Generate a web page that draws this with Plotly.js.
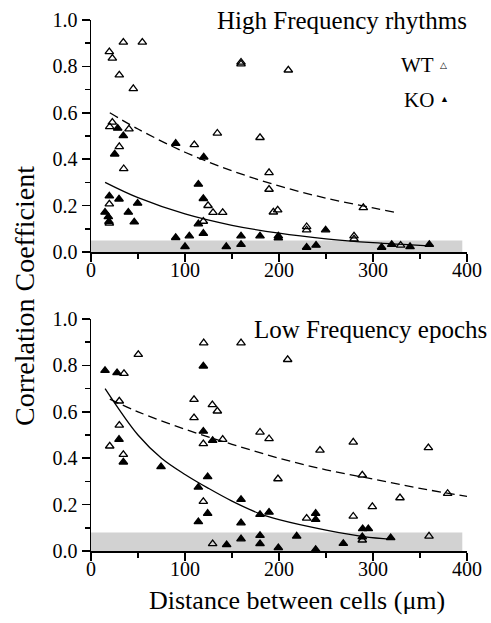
<!DOCTYPE html>
<html>
<head>
<meta charset="utf-8">
<script src="https://cdn.plot.ly/plotly-3.0.1.min.js"></script>
<style>html,body{margin:0;padding:0;background:#fff;}#chart{width:491px;height:623px;}</style>
</head>
<body>
<div id="chart"></div>
<script>
// ---------- DATA ----------
// High Frequency rhythms, WT (open triangles)
const highWTx = [34.4,54.6,19.5,22.7,30.1,45,159.6,159.6,209.9,22.7,19.9,40.4,134.4,179.8,109.9,30.1,34.8,189.4,189.4,19.5,124.5,129.8,140.1,194,198.6,19.5,119.5,289.7,229.4,229.4,279.8,279.8,329.4];
const highWTy = [0.904,0.904,0.863,0.835,0.763,0.704,0.818,0.81,0.784,0.559,0.54,0.53,0.512,0.493,0.462,0.454,0.359,0.342,0.270,0.207,0.200,0.170,0.170,0.172,0.181,0.124,0.132,0.191,0.109,0.095,0.069,0.056,0.029];
// High Frequency rhythms, KO (filled triangles)
const highKOx = [28.4,34.4,90.1,25.2,119.9,114.2,19.5,29.8,49.6,119.5,14.9,39.7,18.4,19.1,46,114.2,119.5,90.1,104.6,100,143.9,159.6,159.6,179.8,199.3,199.3,249.6,229.4,239.4,309.2,319.9,339.4,359.9];
const highKOy = [0.533,0.501,0.468,0.422,0.409,0.292,0.241,0.228,0.21,0.230,0.171,0.171,0.152,0.131,0.129,0.121,0.080,0.062,0.069,0.023,0.023,0.069,0.032,0.069,0.069,0.060,0.095,0.020,0.029,0.020,0.032,0.023,0.032];
// Low Frequency epochs, WT
const lowWTx = [119.9,159.6,50.3,35.1,209.2,30.1,109.6,129.1,134.4,109.6,30.1,179.8,189.4,140.1,119.5,19.9,34.4,198.9,119.5,129.4,279,243.6,358.9,288.6,379.4,328.7,299.3,229.4,279,359.6,288.6];
const lowWTy = [0.897,0.897,0.847,0.765,0.825,0.646,0.653,0.630,0.603,0.574,0.542,0.512,0.484,0.481,0.462,0.452,0.416,0.311,0.213,0.031,0.469,0.434,0.445,0.327,0.248,0.229,0.191,0.141,0.150,0.064,0.047];
// Low Frequency epochs, KO
const lowKOx = [14.9,27.7,119.5,29.8,119.5,129.4,34.4,74.5,124.1,114.2,159.6,124.1,114.2,159.6,179.8,189.4,159.6,179.8,179.8,144.3,199.3,239,239,289,295,288.6,318.8,218.8,268.4,239];
const lowKOy = [0.778,0.768,0.797,0.481,0.516,0.476,0.383,0.363,0.320,0.275,0.222,0.162,0.126,0.121,0.157,0.167,0.052,0.067,0.031,0.027,0.014,0.162,0.136,0.096,0.096,0.061,0.057,0.064,0.032,0.006];

// Fitted curves
const fitHighWTx = [20,50,100,150,200,250,300,325];
const fitHighWTy = [0.60,0.53,0.43,0.35,0.285,0.232,0.19,0.17];
const fitHighKOx = [15,50,100,150,200,250,300,360];
const fitHighKOy = [0.30,0.234,0.164,0.115,0.081,0.057,0.040,0.026];
const fitLowWTx = [20,50,100,150,200,250,300,350,400];
const fitLowWTy = [0.655,0.60,0.525,0.46,0.40,0.35,0.31,0.27,0.235];
const fitLowKOx = [15,50,75,100,125,150,180,200,250,290,320];
const fitLowKOy = [0.70,0.50,0.40,0.33,0.27,0.215,0.16,0.135,0.09,0.062,0.05];

// Grey noise bands (upper limit of correlation, x extent)
const bandHigh = 0.05;
const bandLow = 0.08;
const bandX = [0, 395];

// Tick labels
const xTicks = [0,100,200,300,400];
const yTicks = [0.0,0.2,0.4,0.6,0.8,1.0];

// ---------- LAYOUT HELPERS ----------
const W = 491, H = 623, ML = 91, MR = 24, MT = 20, MB = 72;
const PW = W - ML - MR, PH = H - MT - MB;
const px = x => (x - ML) / PW;
const py = y => (H - MB - y) / PH;
const FONT = 'Liberation Serif, Times New Roman, serif';

function pts(x, y, filled, xa, ya) {
  return {
    x: x, y: y, xaxis: xa, yaxis: ya, type: 'scatter', mode: 'markers', cliponaxis: false,
    showlegend: false, hoverinfo: 'skip',
    marker: {symbol: filled ? 'triangle-up' : 'triangle-up-open', size: 7.5, color: '#000',
             line: {color: '#000', width: 1.3}}
  };
}
function fit(x, y, dashed, xa, ya) {
  return {
    x: x, y: y, xaxis: xa, yaxis: ya, type: 'scatter', mode: 'lines', showlegend: false, hoverinfo: 'skip',
    line: {color: '#000', width: 1.3, shape: 'spline', dash: dashed ? '9px,5px' : 'solid'}
  };
}

const data = [
  fit(fitHighWTx, fitHighWTy, true, 'x', 'y'),
  fit(fitHighKOx, fitHighKOy, false, 'x', 'y'),
  pts(highWTx, highWTy, false, 'x', 'y'),
  pts(highKOx, highKOy, true, 'x', 'y'),
  fit(fitLowWTx, fitLowWTy, true, 'x2', 'y2'),
  fit(fitLowKOx, fitLowKOy, false, 'x2', 'y2'),
  pts(lowWTx, lowWTy, false, 'x2', 'y2'),
  pts(lowKOx, lowKOy, true, 'x2', 'y2')
];

const topFrac = (H - MB - 252) / PH;
const botFrac = (H - MB - 319) / PH;

function xax(anchor) {
  return {
    anchor: anchor, domain: [0, 1], range: [0, 400], tickvals: xTicks, ticktext: xTicks.map(String),
    showline: true, linecolor: '#000', linewidth: 1.5, ticks: 'outside', ticklen: 8, tickwidth: 1.5,
    tickcolor: '#000', showgrid: false, zeroline: false, ticklabelstandoff: -9,
    tickfont: {family: FONT, size: 20, color: '#000'},
    minor: {dtick: 50, tick0: 0, ticks: 'outside', ticklen: 5, tickwidth: 1.5, tickcolor: '#000', showgrid: false}
  };
}
function yax(anchor, dom) {
  return {
    anchor: anchor, domain: dom, range: [0, 1], tickvals: yTicks, ticktext: yTicks.map(v => v.toFixed(1)),
    showline: true, linecolor: '#000', linewidth: 1.5, ticks: 'outside', ticklen: 8, tickwidth: 1.5,
    tickcolor: '#000', showgrid: false, zeroline: false,
    tickfont: {family: FONT, size: 20, color: '#000'},
    minor: {dtick: 0.1, tick0: 0, ticks: 'outside', ticklen: 5, tickwidth: 1.5, tickcolor: '#000', showgrid: false}
  };
}

const shapes = [
  {type: 'rect', xref: 'x', yref: 'y', x0: bandX[0], x1: bandX[1], y0: 0, y1: bandHigh,
   fillcolor: '#d2d2d2', line: {width: 0}, layer: 'below'},
  {type: 'rect', xref: 'x2', yref: 'y2', x0: bandX[0], x1: bandX[1], y0: 0, y1: bandLow,
   fillcolor: '#d2d2d2', line: {width: 0}, layer: 'below'}
];

const ann = (text, x, y, size, xanchor, extra) => Object.assign({
  text: text, xref: 'paper', yref: 'paper', x: px(x), y: py(y), xanchor: xanchor, yanchor: 'middle',
  showarrow: false, font: {family: FONT, size: size, color: '#000'}
}, extra || {});

const annotations = [
  ann('High Frequency rhythms', 469, 20, 25, 'right'),
  ann('Low Frequency epochs', 489, 329, 25, 'right'),
  ann('WT', 436, 65, 21, 'right'),
  ann('\u25B3', 443, 65, 9, 'center'),
  ann('KO', 436, 100, 21, 'right'),
  ann('\u25B2', 444, 99, 9, 'center'),
  ann('Correlation Coefficient', 24, 296, 28, 'center', {textangle: -90}),
  ann('Distance between cells (\u03BCm)', 297, 600, 26, 'center')
];

const layout = {
  width: W, height: H, margin: {l: ML, r: MR, t: MT, b: MB, pad: 0},
  paper_bgcolor: '#fff', plot_bgcolor: '#fff', showlegend: false,
  font: {family: FONT, color: '#000'},
  xaxis: xax('y'), yaxis: yax('x', [topFrac, 1]),
  xaxis2: xax('y2'), yaxis2: yax('x2', [0, botFrac]),
  shapes: shapes, annotations: annotations
};

Plotly.newPlot('chart', data, layout, {displayModeBar: false, staticPlot: true});
</script>
</body>
</html>
